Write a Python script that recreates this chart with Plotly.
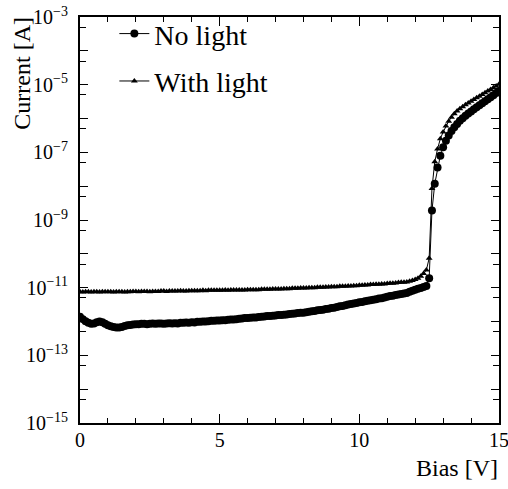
import plotly.graph_objects as go

# Bias values in volts (0.0 .. 15.0 V, 0.1 V steps)
bias_v = [round(i * 0.1, 1) for i in range(151)]

# log10(Current [A]), No light (circles)
no_light_exp = [
    -11.86, -11.93, -11.99, -12.04, -12.07, -12.06, -12.02, -12.00, -12.02, -12.07,
    -12.11, -12.14, -12.16, -12.18, -12.18, -12.16, -12.13, -12.11, -12.10, -12.09,
    -12.08, -12.08, -12.07, -12.07, -12.08, -12.07, -12.06, -12.07, -12.06, -12.06,
    -12.07, -12.06, -12.05, -12.06, -12.05, -12.06, -12.04, -12.04, -12.03, -12.04,
    -12.02, -12.03, -12.01, -12.01, -12.00, -12.00, -11.99, -11.98, -11.98, -11.97,
    -11.97, -11.96, -11.96, -11.95, -11.94, -11.94, -11.93, -11.92, -11.91, -11.90,
    -11.90, -11.89, -11.88, -11.88, -11.87, -11.86, -11.85, -11.84, -11.84, -11.83,
    -11.82, -11.81, -11.81, -11.80, -11.79, -11.78, -11.77, -11.76, -11.75, -11.74,
    -11.74, -11.73, -11.71, -11.70, -11.69, -11.67, -11.66, -11.65, -11.63, -11.62,
    -11.60, -11.59, -11.57, -11.55, -11.54, -11.52, -11.50, -11.48, -11.47, -11.45,
    -11.43, -11.42, -11.40, -11.39, -11.37, -11.36, -11.34, -11.32, -11.31, -11.29,
    -11.27, -11.25, -11.24, -11.22, -11.20, -11.19, -11.17, -11.16, -11.12, -11.09,
    -11.06, -11.03, -11.01, -10.98, -10.95, -10.72,
    -8.72, -7.93, -7.45, -7.10,
    -6.85, -6.66, -6.50, -6.37, -6.26, -6.16, -6.07, -5.99, -5.92, -5.85,
    -5.79, -5.73, -5.67, -5.61, -5.55, -5.49, -5.43, -5.37, -5.31, -5.25,
    -5.19,
]

# log10(Current [A]), With light (triangles)
with_light_exp = [
    -11.12, -11.13, -11.12, -11.12, -11.13, -11.12, -11.12, -11.13, -11.12, -11.12,
    -11.12, -11.12, -11.13, -11.12, -11.12, -11.12, -11.13, -11.12, -11.12, -11.11,
    -11.11, -11.12, -11.11, -11.11, -11.11, -11.12, -11.11, -11.11, -11.11, -11.10,
    -11.10, -11.11, -11.10, -11.10, -11.10, -11.10, -11.09, -11.10, -11.10, -11.09,
    -11.09, -11.09, -11.09, -11.09, -11.08, -11.09, -11.08, -11.08, -11.08, -11.08,
    -11.08, -11.08, -11.07, -11.08, -11.07, -11.07, -11.07, -11.07, -11.07, -11.07,
    -11.06, -11.06, -11.06, -11.06, -11.06, -11.05, -11.05, -11.05, -11.05, -11.04,
    -11.04, -11.04, -11.04, -11.03, -11.03, -11.03, -11.02, -11.02, -11.02, -11.01,
    -11.01, -11.01, -11.00, -11.00, -11.00, -10.99, -10.99, -10.99, -10.98, -10.98,
    -10.97, -10.97, -10.97, -10.96, -10.96, -10.96, -10.95, -10.95, -10.94, -10.94,
    -10.93, -10.93, -10.92, -10.92, -10.91, -10.91, -10.90, -10.90, -10.89, -10.89,
    -10.88, -10.87, -10.87, -10.86, -10.85, -10.84, -10.84, -10.83, -10.81, -10.79,
    -10.76, -10.72, -10.66, -10.58, -10.48, -10.13,
    -8.07, -7.28, -6.90, -6.60,
    -6.40, -6.22, -6.08, -5.96, -5.86, -5.78, -5.71, -5.65, -5.59, -5.54,
    -5.49, -5.44, -5.39, -5.34, -5.29, -5.24, -5.19, -5.14, -5.09, -5.04,
    -4.99,
]

no_light_a = [10 ** e for e in no_light_exp]
with_light_a = [10 ** e for e in with_light_exp]

series_names = ["No light", "With light"]

# axis ticks
x_major = [0, 5, 10, 15]
y_decades = list(range(-15, -2))
y_tickvals = [10.0 ** d for d in y_decades]
y_ticktext = [("10<sup>\u2212%d</sup>" % (-d)) if (d % 2 != 0) else "" for d in y_decades]
y_minor = [5 * 10.0 ** d for d in range(-15, -3)]

FONT = "Times New Roman, Liberation Serif, DejaVu Serif, serif"

fig = go.Figure()
fig.add_trace(go.Scatter(
    x=bias_v, y=no_light_a, name=series_names[0], mode="lines+markers",
    line=dict(color="black", width=1),
    marker=dict(symbol="circle", size=8, color="black"),
    legendgroup="a",
))
fig.add_trace(go.Scatter(
    x=bias_v, y=with_light_a, name=series_names[1], mode="lines+markers",
    line=dict(color="black", width=1),
    marker=dict(symbol="triangle-up", size=6, color="black"),
    legendgroup="b",
))

fig.update_layout(
    width=508, height=489,
    margin=dict(l=80, r=9, t=14, b=66),
    paper_bgcolor="white", plot_bgcolor="white",
    font=dict(family=FONT, color="black", size=20),
    showlegend=True,
    legend=dict(
        x=0.082, y=1.02, xanchor="left", yanchor="top",
        font=dict(family=FONT, size=28, color="black"),
        bgcolor="rgba(0,0,0,0)", tracegroupgap=8,
        traceorder="grouped",
    ),
    xaxis=dict(
        range=[0, 15], tickvals=x_major, ticktext=[str(v) for v in x_major],
        ticks="inside", ticklen=9, tickwidth=1, tickcolor="black",
        minor=dict(dtick=1, ticks="inside", ticklen=5, tickwidth=1, tickcolor="black"),
        showline=True, linewidth=2, linecolor="black", mirror="ticks",
        showgrid=False, zeroline=False, automargin=False,
        ticklabeloverflow="allow",
        tickfont=dict(family=FONT, size=20),
        ticklabelstandoff=-2,
    ),
    yaxis=dict(
        type="log", range=[-15, -3],
        tickmode="array", tickvals=y_tickvals, ticktext=y_ticktext,
        ticks="inside", ticklen=8, tickwidth=1, tickcolor="black",
        minor=dict(tickmode="array", tickvals=y_minor, ticks="inside", ticklen=6,
                   tickwidth=1, tickcolor="black"),
        showline=True, linewidth=2, linecolor="black", mirror="ticks",
        showgrid=False, zeroline=False, automargin=False,
        ticklabeloverflow="allow",
        tickfont=dict(family=FONT, size=20),
        ticklabelstandoff=6,
    ),
    annotations=[
        dict(text="Current [A]", xref="paper", yref="paper", x=-0.138, y=1.005,
             xanchor="center", yanchor="top", textangle=-90, showarrow=False,
             font=dict(family=FONT, size=24, color="black")),
        dict(text="Bias [V]", xref="paper", yref="paper", x=1.003, y=-0.11,
             xanchor="right", yanchor="middle", showarrow=False,
             font=dict(family=FONT, size=24, color="black")),
    ],
)

fig.write_html("out.html")
